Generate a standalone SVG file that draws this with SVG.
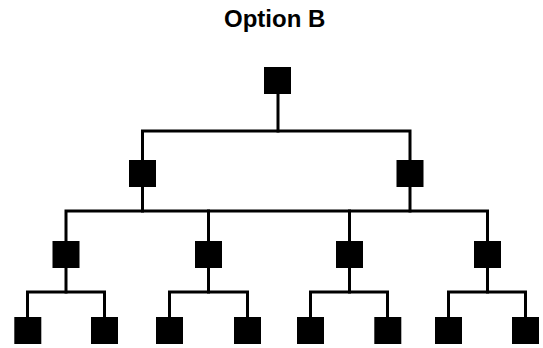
<svg xmlns="http://www.w3.org/2000/svg" width="543" height="348" viewBox="0 0 543 348">
<style>
.node rect{fill:#000}
.edges path{fill:none;stroke:#000;stroke-width:3;stroke-linejoin:miter;stroke-linecap:square}
.title{font-family:"Liberation Sans",Arial,sans-serif;font-weight:bold;font-size:24px;fill:#000}
</style>
<rect width="543" height="348" fill="#fff"/>
<text class="title" x="274.7" y="27" text-anchor="middle">Option B</text>
<g class="edges">
<path d="M278 94V131"/>
<path d="M142.5 160V131H410V160"/>
<path d="M142.5 187V211"/>
<path d="M410 187V211"/>
<path d="M66 241V211H487.5V241"/>
<path d="M208.5 211V241"/>
<path d="M349.5 211V241"/>
<path d="M66 268V292"/>
<path d="M208.5 268V292"/>
<path d="M349.5 268V292"/>
<path d="M487.5 268V292"/>
<path d="M27.5 317V292H104.5V317"/>
<path d="M169.5 317V292H247.5V317"/>
<path d="M310.5 317V292H387.5V317"/>
<path d="M448.5 317V292H525.5V317"/>
</g>
<g id="n0" class="node"><rect x="264" y="67" width="27" height="27"/></g>
<g id="n1" class="node"><rect x="129" y="160" width="27" height="27"/></g>
<g id="n2" class="node"><rect x="396.5" y="160" width="27" height="27"/></g>
<g id="n3" class="node"><rect x="52.5" y="241" width="27" height="27"/></g>
<g id="n4" class="node"><rect x="195" y="241" width="27" height="27"/></g>
<g id="n5" class="node"><rect x="336" y="241" width="27" height="27"/></g>
<g id="n6" class="node"><rect x="474" y="241" width="27" height="27"/></g>
<g id="n7" class="node"><rect x="14.3" y="317" width="27" height="27"/></g>
<g id="n8" class="node"><rect x="91" y="317" width="27" height="27"/></g>
<g id="n9" class="node"><rect x="156" y="317" width="27" height="27"/></g>
<g id="n10" class="node"><rect x="234" y="317" width="27" height="27"/></g>
<g id="n11" class="node"><rect x="297" y="317" width="27" height="27"/></g>
<g id="n12" class="node"><rect x="374.3" y="317" width="27" height="27"/></g>
<g id="n13" class="node"><rect x="435" y="317" width="27" height="27"/></g>
<g id="n14" class="node"><rect x="512" y="317" width="27" height="27"/></g>
</svg>
